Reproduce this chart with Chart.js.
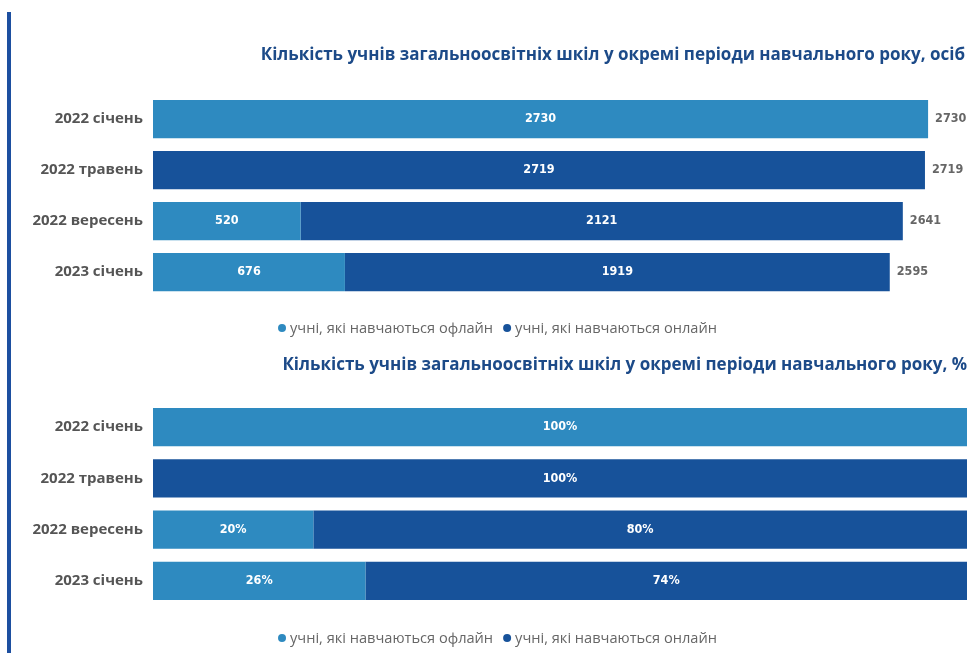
<!DOCTYPE html>
<html><head><meta charset="utf-8">
<script src="https://cdn.jsdelivr.net/npm/chart.js@4.4.1/dist/chart.umd.min.js"></script>
<style>
html,body{margin:0;padding:0;background:#fff;width:971px;height:653px;overflow:hidden;}
#rule{position:absolute;left:7px;top:12px;width:4px;height:641px;background:#1d4fa0;}
.box{position:absolute;left:0;width:971px;}
#w1{top:30px;height:320px;}
#w2{top:340px;height:313px;}
</style></head><body>
<div id="rule"></div>
<div class="box" id="w1"><canvas id="c1"></canvas></div>
<div class="box" id="w2"><canvas id="c2"></canvas></div>
<script>
const categories = ['2022 січень', '2022 травень', '2022 вересень', '2023 січень'];
const seriesNames = ['учні, які навчаються офлайн', 'учні, які навчаються онлайн'];
const offlineCount = [2730, 0, 520, 676];
const onlineCount = [0, 2719, 2121, 1919];
const offlinePct = [100, 0, 19.7, 26.1];
const onlinePct = [0, 100, 80.3, 73.9];
const title1 = 'Кількість учнів загальноосвітніх шкіл у окремі періоди навчального року, осіб';
const title2 = 'Кількість учнів загальноосвітніх шкіл у окремі періоди навчального року, %';
const colors = ['#2e8ac0', '#17529a'];

const valueLabels = {
  id: 'valueLabels',
  afterDatasetsDraw(chart, args, opts) {
    const ctx = chart.ctx;
    ctx.save();
    ctx.font = 'bold 12.5px "DejaVu Sans Condensed", "DejaVu Sans", sans-serif';
    ctx.textBaseline = 'middle';
    ctx.textAlign = 'center';
    ctx.fillStyle = '#ffffff';
    const ends = [];
    chart.data.datasets.forEach((ds, i) => {
      const meta = chart.getDatasetMeta(i);
      meta.data.forEach((el, j) => {
        const v = ds.data[j];
        const p = el.getProps(['x', 'y', 'base'], true);
        if (v) {
          ctx.fillText(opts.fmt(v), (p.x + p.base) / 2, p.y);
          ends[j] = Math.max(ends[j] || 0, p.x);
        }
      });
    });
    if (opts.totals) {
      ctx.font = 'bold 12.5px "DejaVu Sans Condensed", "DejaVu Sans", sans-serif';
      ctx.textAlign = 'left';
      ctx.fillStyle = '#666666';
      chart.data.labels.forEach((lab, j) => {
        let sum = 0;
        chart.data.datasets.forEach(ds => { sum += ds.data[j] || 0; });
        const y = chart.getDatasetMeta(0).data[j].y;
        ctx.fillText(String(sum), ends[j] + 7, y);
      });
    }
    ctx.restore();
  }
};

const dotLegend = {
  id: 'dotLegend',
  afterDraw(chart, args, opts) {
    const ctx = chart.ctx;
    ctx.save();
    ctx.font = opts.font;
    ctx.textBaseline = 'middle';
    ctx.textAlign = 'left';
    const items = chart.data.datasets.map(ds => ({ text: ds.label, color: ds.backgroundColor, w: ctx.measureText(ds.label).width }));
    const d = 8, g = 4, gap = 10;
    let total = 0;
    items.forEach((it, i) => { total += d + g + it.w + (i ? gap : 0); });
    let x = opts.cx - total / 2;
    const y = chart.chartArea.bottom + opts.offset;
    items.forEach((it, i) => {
      if (i) x += gap;
      ctx.fillStyle = it.color;
      ctx.beginPath();
      ctx.arc(x + d / 2, y, d / 2, 0, Math.PI * 2);
      ctx.fill();
      x += d + g;
      ctx.fillStyle = '#666666';
      ctx.fillText(it.text, x, y + 1);
      x += it.w;
    });
    ctx.restore();
  }
};

function makeChart(id, offline, online, cfg) {
  return new Chart(document.getElementById(id), {
    type: 'bar',
    data: {
      labels: categories,
      datasets: [
        { label: seriesNames[0], data: offline, backgroundColor: colors[0], borderWidth: 0 },
        { label: seriesNames[1], data: online, backgroundColor: colors[1], borderWidth: 0 }
      ]
    },
    options: {
      indexAxis: 'y',
      responsive: true,
      maintainAspectRatio: false,
      animation: false,
      layout: { padding: { left: 0, right: cfg.padRight, top: 0, bottom: cfg.padBottom } },
      datasets: { bar: { categoryPercentage: 1, barPercentage: 0.75 } },
      scales: {
        x: { stacked: true, display: false, min: 0, max: cfg.max },
        y: {
          stacked: true,
          grid: { display: false },
          border: { display: false },
          ticks: { color: '#555555', padding: 2, font: { family: '"Open Sans", sans-serif', size: 15, weight: 'bold' } },
          afterFit(s) { s.width = 153; }
        }
      },
      plugins: {
        legend: { display: false },
        tooltip: { enabled: false },
        title: {
          display: true, text: cfg.title, align: 'end', color: '#1c4a88',
          font: { family: '"Open Sans", sans-serif', size: 17, weight: 'bold', lineHeight: 1.06 },
          padding: { top: cfg.tTop, bottom: cfg.tBottom }
        },
        valueLabels: { fmt: cfg.fmt, totals: cfg.totals },
        dotLegend: { cx: 497.5, offset: cfg.legOff, font: '14.6px "Open Sans", sans-serif' }
      }
    },
    plugins: [valueLabels, dotLegend]
  });
}

makeChart('c1', offlineCount, onlineCount, {
  title: title1, max: 2860, padRight: 6, padBottom: 52.5, tTop: 16, tBottom: 29.5,
  fmt: v => String(v), totals: true, legOff: 30.5
});
makeChart('c2', offlinePct, onlinePct, {
  title: title2, max: 100, padRight: 4, padBottom: 46.5, tTop: 16, tBottom: 27.5,
  fmt: v => Math.round(v) + '%', totals: false, legOff: 31.5
});
</script>
</body></html>
